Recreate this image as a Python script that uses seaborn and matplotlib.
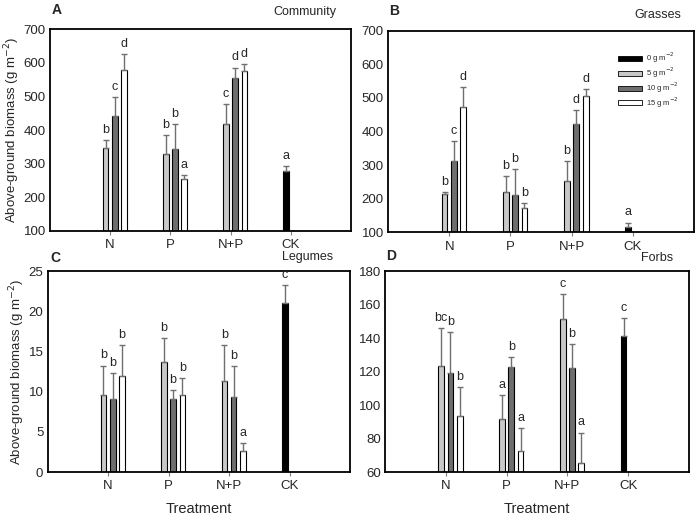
import matplotlib
matplotlib.use("Agg")
import matplotlib.pyplot as plt
import pandas as pd
import seaborn as sns
from matplotlib.patches import Patch

categories = ["N", "P", "N+P", "CK"]
levels = ["0 g m$^{-2}$", "5 g m$^{-2}$", "10 g m$^{-2}$", "15 g m$^{-2}$"]
treatments = ["N"] * 3 + ["P"] * 3 + ["N+P"] * 3 + ["CK"]
rates = levels[1:] * 3 + [levels[0]]

community_mean = [347, 441, 578, 328, 343, 254, 417, 554, 576, 279]
community_err = [24, 57, 48, 58, 74, 12, 60, 32, 20, 13]
community_letters = ["b", "c", "d", "b", "b", "a", "c", "d", "d", "a"]

grasses_mean = [214, 311, 472, 221, 211, 171, 252, 421, 506, 115]
grasses_err = [6, 60, 61, 47, 76, 15, 61, 43, 20, 14]
grasses_letters = ["b", "c", "d", "b", "b", "b", "b", "d", "d", "a"]

legumes_mean = [9.55, 9.1, 12.0, 13.7, 9.1, 9.55, 11.3, 9.3, 2.6, 21.0]
legumes_err = [3.7, 3.2, 3.85, 3.0, 1.1, 2.2, 4.5, 3.9, 1.05, 2.3]
legumes_letters = ["b", "b", "b", "b", "b", "b", "b", "b", "a", "c"]

forbs_mean = [123.4, 119, 93.7, 91.9, 122.6, 72.6, 151.5, 122.2, 65.2, 141]
forbs_err = [22.3, 24.3, 16.9, 13.9, 6.0, 13.5, 14.7, 14.1, 18.3, 10.7]
forbs_letters = ["bc", "b", "b", "a", "b", "a", "c", "b", "a", "c"]

palette = dict(zip(levels, ["black", "#c8c8c8", "#6e6e6e", "white"]))

sns.set_style("ticks")
plt.rcParams["font.family"] = ["Liberation Sans", "DejaVu Sans"]


def draw_panel(ax, means, errs, letters, ylim, yticks):
    df = pd.DataFrame({"treatment": treatments, "level": rates, "mean": means,
                       "err": errs, "letter": letters})
    bar_kws = dict(x="treatment", y="mean", hue="level", order=categories, palette=palette,
                   saturation=1, width=0.61, gap=0.38, dodge=True, edgecolor="black",
                   linewidth=0.8, errorbar=None, legend=False, ax=ax)
    sns.barplot(data=df[df.treatment != "CK"], hue_order=levels, **bar_kws)
    # control bar sits in the second slot, as in the original figure
    sns.barplot(data=df[df.treatment == "CK"],
                hue_order=[levels[1], levels[0], levels[2], levels[3]], **bar_kws)

    for p in list(ax.patches):
        h = p.get_height()
        if not h == h or h == 0:
            continue
        xc = p.get_x() + p.get_width() / 2
        rows = df[df.treatment == categories[int(round(xc))]]
        row = rows.iloc[(rows["mean"] - h).abs().argmin()]
        ax.errorbar(xc, row["mean"], yerr=[[0], [row["err"]]], color="#707070",
                    lw=1, capsize=2, capthick=1, zorder=1)
        ax.annotate(row["letter"], (xc, row["mean"] + row["err"]), xytext=(0, 3),
                    textcoords="offset points", ha="center", va="bottom", fontsize=9)

    ax.set_xlim(-1, 4)
    ax.set_ylim(*ylim)
    ax.set_yticks(yticks)
    ax.set_xlabel("")
    ax.set_ylabel("")
    ax.tick_params(axis="y", length=0, pad=3, labelsize=9.5)
    ax.tick_params(axis="x", length=3, width=0.8, color="#808080", pad=3, labelsize=9.5)
    for s in ax.spines.values():
        s.set_visible(True)
        s.set_linewidth(1.3)
        s.set_color("black")


fig = plt.figure(figsize=(6.96, 5.2), dpi=100)
ax_a = fig.add_axes([0.0718, 0.5558, 0.4325, 0.3879])
ax_b = fig.add_axes([0.5575, 0.5533, 0.4397, 0.3877])
ax_c = fig.add_axes([0.0683, 0.0923, 0.4346, 0.3859])
ax_d = fig.add_axes([0.5532, 0.0923, 0.4368, 0.3865])

draw_panel(ax_a, community_mean, community_err, community_letters, (100, 700), range(100, 701, 100))
draw_panel(ax_b, grasses_mean, grasses_err, grasses_letters, (100, 700), range(100, 701, 100))
draw_panel(ax_c, legumes_mean, legumes_err, legumes_letters, (0, 25), range(0, 26, 5))
draw_panel(ax_d, forbs_mean, forbs_err, forbs_letters, (60, 180), range(60, 181, 20))

for ax in (ax_a, ax_c):
    ax.set_ylabel("Above-ground biomass (g m$^{-2}$)", fontsize=9.5, labelpad=1)
for ax in (ax_c, ax_d):
    ax.set_xlabel("Treatment", fontsize=10.5, labelpad=7)

for ax, letter, lx, ly, title, tx, ty in [
    (ax_a, "A", 0.023, 1.096, "Community", 0.953, 1.086),
    (ax_b, "B", 0.021, 1.10, "Grasses", 0.958, 1.078),
    (ax_c, "C", 0.025, 1.066, "Legumes", 0.944, 1.071),
    (ax_d, "D", 0.02, 1.075, "Forbs", 0.947, 1.067),
]:
    ax.text(lx, ly, letter, transform=ax.transAxes, fontsize=10, fontweight="bold",
            ha="center", va="center")
    ax.text(tx, ty, title, transform=ax.transAxes, fontsize=9, ha="right", va="center")

handles = [Patch(facecolor=palette[lv], edgecolor="black", linewidth=0.6, label=lv) for lv in levels]
ax_b.legend(handles=handles, loc="upper right", bbox_to_anchor=(0.96, 0.915), frameon=False,
            fontsize=5.5, handlelength=3.2, handleheight=0.6, labelspacing=0.05,
            borderaxespad=0, handletextpad=0.5)

fig.savefig("out.png", dpi=100)
